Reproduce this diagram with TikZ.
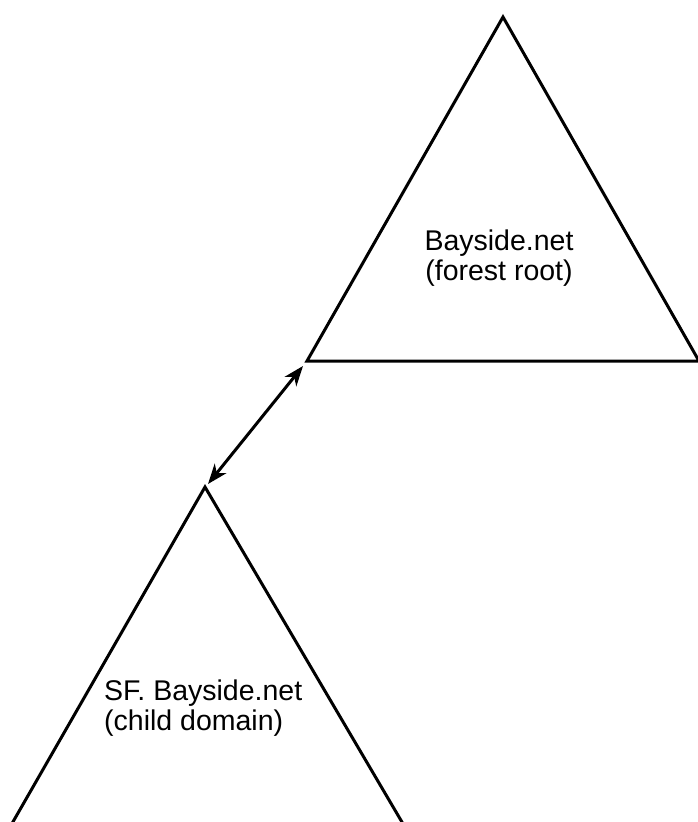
\documentclass[tikz,border=0pt]{standalone}
\usepackage{fontspec}
\setmainfont{Liberation Sans}
\usetikzlibrary{arrows.meta}
\begin{document}
\begin{tikzpicture}[x=1pt,y=-1pt,
  treeedge/.style={line width=3pt, line join=miter},
  treetext/.style={font=\fontsize{28.5}{30}\selectfont, inner sep=0pt, align=center},
  trustlink/.style={line width=3pt, {Stealth[length=20pt,width=15pt,inset=6pt]}-{Stealth[length=20pt,width=15pt,inset=6pt]}}]
  \useasboundingbox (0,0) rectangle (698,822);
  \fill[white] (0,0) rectangle (698,822);
  \clip (0,0) rectangle (698,822);

  % forest root domain tree
  \coordinate (rootApex) at (503,17);
  \coordinate (rootLeft) at (307,361);
  \coordinate (rootRight) at (699,361);
  \draw[treeedge] (rootApex) -- (rootLeft) -- (rootRight) -- cycle;
  \node[treetext] (rootText) at (499,258) {Bayside.net\\(forest root)};

  % child domain tree
  \coordinate (childApex) at (205,487);
  \coordinate (childLeft) at (6,834);
  \coordinate (childRight) at (409,834);
  \draw[treeedge] (childApex) -- (childLeft) -- (childRight) -- cycle;
  \node[treetext, align=left, anchor=west] (childText) at (104,708) {SF. Bayside.net\\(child domain)};

  % two-way trust between the trees
  \coordinate (trustTop) at (303,366);
  \coordinate (trustBottom) at (208,484);
  \draw[trustlink] (trustBottom) -- (trustTop);
\end{tikzpicture}
\end{document}
